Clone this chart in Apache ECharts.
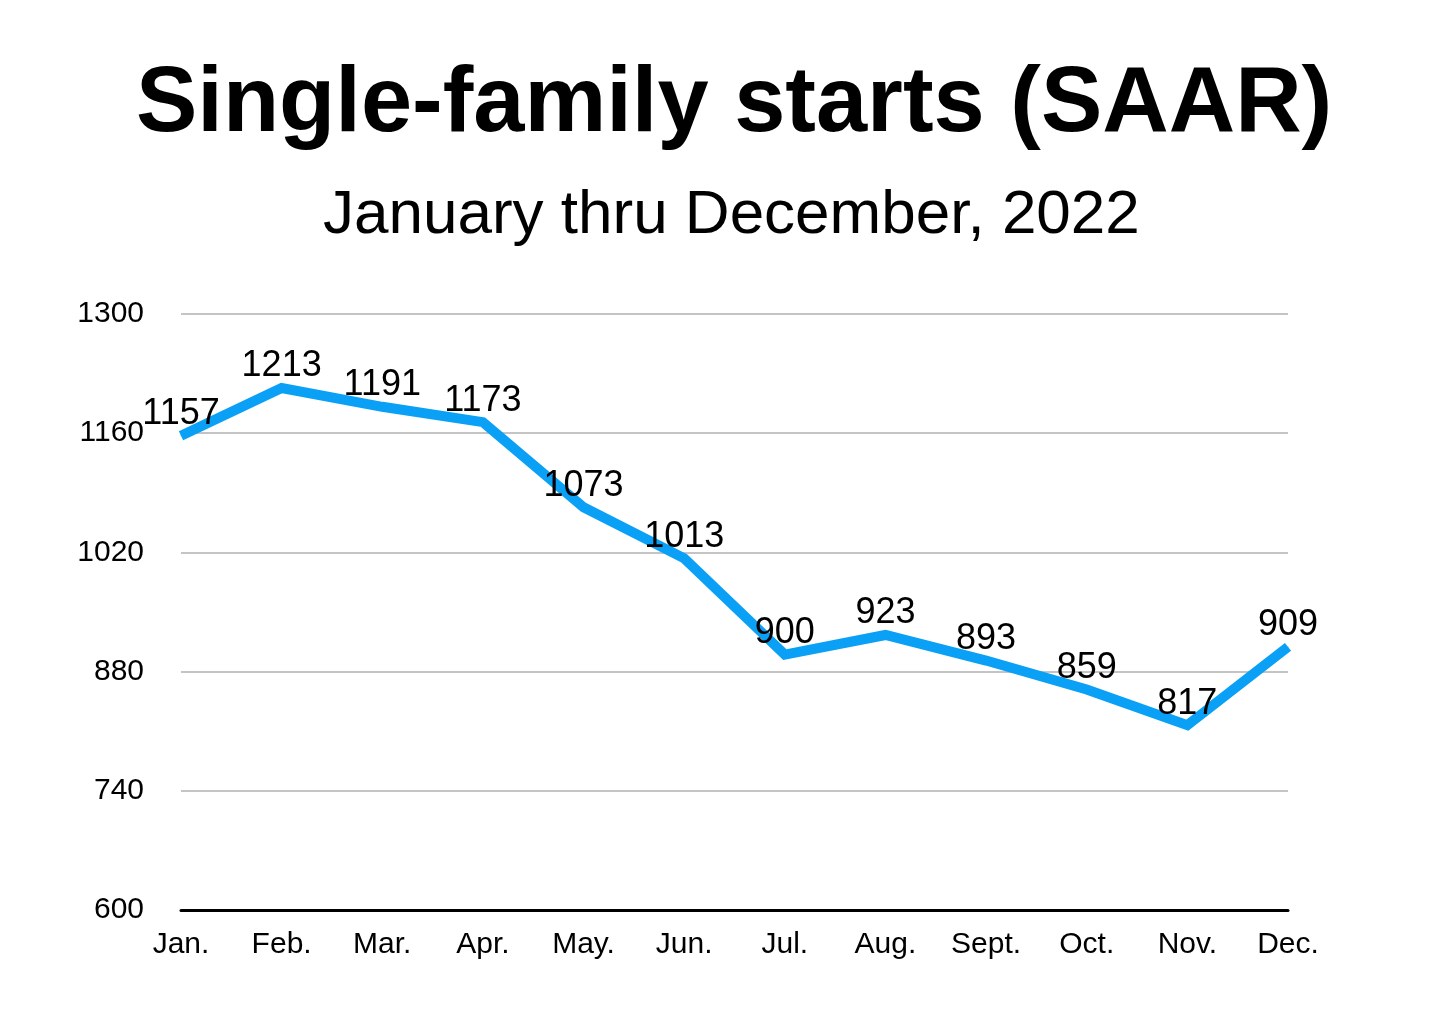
<!DOCTYPE html>
<html>
<head>
<meta charset="utf-8">
<script src="https://cdn.jsdelivr.net/npm/echarts@6/dist/echarts.min.js"></script>
<style>
html,body{margin:0;padding:0;background:#fff;}
#chart{width:1440px;height:1020px;}
</style>
</head>
<body>
<div id="chart"></div>
<script>
const titleText = 'Single-family starts (SAAR)';
const subtitleText = 'January thru December, 2022';
const months = ['Jan.', 'Feb.', 'Mar.', 'Apr.', 'May.', 'Jun.', 'Jul.', 'Aug.', 'Sept.', 'Oct.', 'Nov.', 'Dec.'];
const starts = [1157, 1213, 1191, 1173, 1073, 1013, 900, 923, 893, 859, 817, 909];
const yMin = 600, yMax = 1300, yStep = 140;

const font = '"Liberation Sans", Arial, Helvetica, sans-serif';
const chart = echarts.init(document.getElementById('chart'), null, {renderer: 'canvas'});
chart.setOption({
  backgroundColor: '#ffffff',
  animation: false,
  title: [
    {text: titleText, left: 131, top: 55,
     textStyle: {fontFamily: font, fontWeight: 'bold', fontSize: 92, color: '#000'}},
    {text: subtitleText, left: 318, top: 180,
     textStyle: {fontFamily: font, fontWeight: 'normal', fontSize: 62, color: '#000'}}
  ],
  grid: {left: 181, right: 152, top: 314, bottom: 110, containLabel: false},
  xAxis: {
    type: 'category', data: months, boundaryGap: false,
    axisLine: {show: true, lineStyle: {color: '#000', width: 3}},
    axisTick: {show: false},
    axisLabel: {fontFamily: font, fontSize: 30, color: '#000', margin: 20},
    splitLine: {show: false}
  },
  yAxis: {
    type: 'value', min: yMin, max: yMax, interval: yStep,
    axisLine: {show: false}, axisTick: {show: false},
    axisLabel: {fontFamily: font, fontSize: 30, color: '#000', margin: 37, padding: [8, 0, 0, 0],
                formatter: v => String(v)},
    splitLine: {show: true, lineStyle: {color: '#c4c4c4', width: 2}}
  },
  series: [{
    type: 'line', data: starts, showSymbol: true, symbol: 'circle', symbolSize: 1,
    itemStyle: {color: '#0aa0f5'},
    lineStyle: {color: '#0aa0f5', width: 10, cap: 'butt', join: 'miter'},
    label: {show: true, position: 'top', distance: 3, fontFamily: font, fontSize: 36, color: '#000',
            formatter: p => String(p.value)},
    labelLayout: {hideOverlap: false}
  }]
});
</script>
</body>
</html>
